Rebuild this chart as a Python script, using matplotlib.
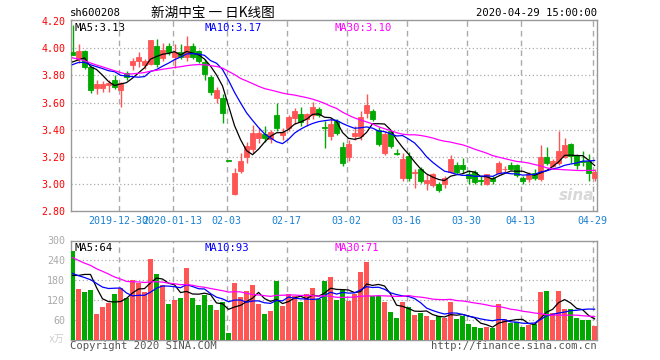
import matplotlib
matplotlib.use('Agg')
import matplotlib.pyplot as plt
import numpy as np
import pandas as pd

plt.rcParams['font.family'] = ['DejaVu Sans Mono', 'Noto Sans CJK SC']

# daily candles 2019-12-18 .. 2020-04-29
opens = [3.97, 3.92, 3.98, 3.86, 3.71, 3.71, 3.73, 3.765, 3.69, 3.815,
         3.875, 3.905, 3.88, 3.885, 4.015, 3.93, 4.015, 3.94, 3.975, 3.935,
         4.02, 3.98, 3.90, 3.79, 3.63, 3.635, 3.17, 2.925, 3.09, 3.195,
         3.255, 3.335, 3.365, 3.33, 3.505, 3.36, 3.41, 3.485, 3.515, 3.475,
         3.51, 3.55, 3.42, 3.35, 3.465, 3.27, 3.195, 3.35, 3.35, 3.525,
         3.54, 3.40, 3.23, 3.39, 3.23, 3.045, 3.205, 3.08, 3.105, 3.005,
         2.99, 3.00, 3.00, 3.085, 3.14, 3.14, 3.07, 3.085, 3.025, 3.00,
         3.04, 3.08, 3.105, 3.14, 3.135, 3.045, 3.035, 3.08, 3.035, 3.195,
         3.13, 3.155, 3.195, 3.295, 3.21, 3.17, 3.165, 3.045]
highs = [4.17, 4.03, 3.985, 3.87, 3.77, 3.76, 3.77, 3.80, 3.75, 3.835,
         3.93, 3.97, 3.92, 4.065, 4.07, 4.04, 4.04, 4.03, 4.03, 4.09,
         4.04, 3.99, 3.92, 3.80, 3.715, 3.66, 3.17, 3.115, 3.225, 3.31,
         3.43, 3.41, 3.425, 3.395, 3.60, 3.41, 3.51, 3.56, 3.565, 3.525,
         3.605, 3.565, 3.46, 3.485, 3.48, 3.31, 3.325, 3.425, 3.54, 3.665,
         3.555, 3.42, 3.39, 3.40, 3.255, 3.23, 3.235, 3.11, 3.125, 3.07,
         3.08, 3.01, 3.06, 3.215, 3.16, 3.19, 3.10, 3.10, 3.055, 3.075,
         3.06, 3.165, 3.13, 3.16, 3.145, 3.06, 3.085, 3.11, 3.285, 3.27,
         3.18, 3.39, 3.34, 3.30, 3.22, 3.24, 3.22, 3.105]
lows = [3.95, 3.89, 3.85, 3.67, 3.66, 3.68, 3.68, 3.70, 3.565, 3.77,
        3.84, 3.86, 3.85, 3.88, 3.86, 3.905, 3.95, 3.855, 3.92, 3.905,
        3.92, 3.89, 3.77, 3.655, 3.60, 3.45, 3.17, 2.915, 3.08, 3.15,
        3.225, 3.30, 3.31, 3.30, 3.39, 3.32, 3.39, 3.44, 3.425, 3.425,
        3.475, 3.49, 3.265, 3.32, 3.36, 3.13, 3.165, 3.325, 3.325, 3.485,
        3.46, 3.275, 3.21, 3.26, 3.21, 3.02, 3.02, 2.965, 3.005, 2.95,
        2.975, 2.94, 2.97, 3.08, 3.07, 3.08, 3.00, 2.995, 2.99, 2.99,
        2.995, 3.07, 3.085, 3.10, 3.05, 3.00, 3.01, 3.025, 3.02, 3.14,
        3.12, 3.14, 3.19, 3.155, 3.11, 3.13, 3.02, 3.02]
closes = [3.95, 3.98, 3.86, 3.69, 3.74, 3.74, 3.745, 3.715, 3.745, 3.79,
          3.905, 3.94, 3.905, 4.065, 3.885, 3.99, 3.97, 3.97, 3.94, 4.015,
          3.935, 3.905, 3.81, 3.68, 3.69, 3.525, 3.17, 3.08, 3.165, 3.28,
          3.375, 3.375, 3.34, 3.38, 3.41, 3.385, 3.49, 3.535, 3.455, 3.515,
          3.565, 3.51, 3.41, 3.44, 3.375, 3.155, 3.295, 3.375, 3.49, 3.58,
          3.475, 3.295, 3.365, 3.275, 3.22, 3.185, 3.04, 3.085, 3.02, 3.03,
          3.07, 2.95, 3.045, 3.18, 3.085, 3.105, 3.045, 3.015, 3.02, 3.07,
          3.02, 3.155, 3.11, 3.11, 3.065, 3.02, 3.07, 3.045, 3.195, 3.155,
          3.165, 3.245, 3.285, 3.205, 3.14, 3.16, 3.08, 3.085]
# volume, 万手
volumes = [268, 153, 144, 150, 78, 99, 111, 138, 156, 126,
           180, 171, 144, 243, 198, 165, 108, 120, 126, 216,
           126, 105, 135, 105, 90, 114, 21, 171, 129, 147,
           165, 108, 78, 87, 177, 102, 138, 132, 114, 138,
           156, 123, 177, 189, 120, 153, 117, 138, 204, 234,
           132, 132, 114, 84, 66, 114, 99, 75, 81, 72,
           60, 72, 66, 116, 63, 72, 48, 39, 36, 39,
           36, 108, 63, 51, 54, 39, 45, 48, 144, 147,
           81, 147, 93, 93, 66, 61, 60, 42]

# sessions before the window (estimated, only feed the moving averages)
prev_closes = [4.25, 4.22, 4.20, 4.18, 4.15, 4.17, 4.16, 4.14, 4.135,
               3.85, 3.80, 3.76, 3.74, 3.72, 3.75, 3.78, 3.76, 3.77, 3.79, 3.775,
               3.82, 3.85, 3.87, 3.88, 3.88,
               3.905, 3.785, 4.015, 3.845]
prev_volumes = [420, 390, 350, 380, 330, 360, 400, 340, 345,
                210, 185, 200, 190, 175, 205, 195, 180, 210, 200, 195,
                220, 200, 215, 190, 210,
                153, 129, 150, 275]

date_labels = ['2019-12-30', '2020-01-13', '02-03', '02-17', '03-02',
               '03-16', '03-30', '04-13', '04-29']
date_pos = [8, 17, 26, 36, 46, 56, 66, 75, 87]

RED = '#ff5555'
GREEN = '#00a800'
GRID = '#aaaaaa'
FRAME = '#999999'

n = len(closes)
x = np.arange(n)
o = np.array(opens)
c = np.array(closes)
up = c > o
cols = [RED if u else GREEN for u in up]


def ma(prev, vals, k):
    s = pd.Series(list(prev) + list(vals)).rolling(k, min_periods=1).mean()
    return s.values[len(prev):]


fig = plt.figure(figsize=(6.6, 3.6), dpi=100)
W, H = 660.0, 360.0
axl, axr = 70.7, 597.0
ax = fig.add_axes([axl / W, 1 - 210.7 / H, (axr - axl) / W, (210.7 - 20) / H])
axv = fig.add_axes([axl / W, 1 - 340.3 / H, (axr - axl) / W, (340.3 - 240.5) / H])

grid_x = [p - 0.33 for p in date_pos]

for a in (ax, axv):
    a.set_xlim(-0.3, 87.4)
    for s in a.spines.values():
        s.set_color(FRAME)
        s.set_linewidth(1.0)
    for gx in grid_x:
        a.axvline(gx, color=GRID, lw=1.0, ls=(0, (4, 3)), zorder=0)
    a.tick_params(length=0)

# price panel
ax.set_ylim(2.80, 4.21)
yt = [2.8, 3.0, 3.2, 3.4, 3.6, 3.8, 4.0, 4.2]
for yv in yt[1:-1]:
    ax.axhline(yv, color=GRID, lw=0.9, ls=(0, (1, 2)), zorder=0)
ax.set_yticks(yt)
ax.set_yticklabels(['%.2f' % v for v in yt], color='#ff0000', fontsize=7.2)
ax.set_xticks(grid_x)
ax.set_xticklabels(date_labels, color='#1a80d0', fontsize=7.2)
ax.tick_params(axis='y', pad=4)
ax.tick_params(axis='x', pad=4)

ax.vlines(x, lows, highs, colors=cols, lw=1.0, zorder=2)
body = np.maximum(np.abs(c - o), 0.003)
ax.bar(x, body, bottom=np.minimum(o, c), width=0.83, color=cols,
       edgecolor=cols, linewidth=0.6, zorder=3)

m5 = ma(prev_closes, closes, 5)
m10 = ma(prev_closes, closes, 10)
m30 = ma(prev_closes, closes, 30)
ax.plot(x, m5, color='black', lw=0.9, zorder=4)
ax.plot(x, m10, color='#0000ff', lw=0.9, zorder=4)
ax.plot(x, m30, color='#ff00ff', lw=0.9, zorder=4)

ax.text(0.008, 0.985, 'MA5:%.2f' % m5[-1], transform=ax.transAxes,
        fontsize=7.6, va='top', ha='left', color='black')
ax.text(0.255, 0.985, 'MA10:%.2f' % m10[-1], transform=ax.transAxes,
        fontsize=7.6, va='top', ha='left', color='#0000ff')
ax.text(0.501, 0.985, 'MA30:%.2f' % m30[-1], transform=ax.transAxes,
        fontsize=7.6, va='top', ha='left', color='#ff00ff')
ax.text(0.995, 0.04, 'sina', transform=ax.transAxes, fontsize=11,
        family='DejaVu Sans', style='italic', weight='bold', color='#d8d8d8',
        ha='right', va='bottom', zorder=1)

# volume panel
axv.set_ylim(0, 300)
for yv in [60, 120, 180, 240]:
    axv.axhline(yv, color=GRID, lw=0.9, ls=(0, (1, 2)), zorder=0)
axv.set_yticks([60, 120, 180, 240, 300])
axv.set_yticklabels(['60', '120', '180', '240', '300'], color='#aaaaaa', fontsize=7.2)
axv.tick_params(axis='y', pad=4)
axv.set_xticks([])
axv.bar(x, volumes, width=0.83, color=cols, zorder=3)
v5 = ma(prev_volumes, volumes, 5)
v10 = ma(prev_volumes, volumes, 10)
v30 = ma(prev_volumes, volumes, 30)
axv.plot(x, v5, color='black', lw=0.9, zorder=4)
axv.plot(x, v10, color='#0000ff', lw=0.9, zorder=4)
axv.plot(x, v30, color='#ff00ff', lw=0.9, zorder=4)
axv.text(0.008, 0.975, 'MA5:%d' % round(v5[-1]), transform=axv.transAxes,
         fontsize=7.6, va='top', ha='left', color='black')
axv.text(0.255, 0.975, 'MA10:%d' % round(v10[-1]), transform=axv.transAxes,
         fontsize=7.6, va='top', ha='left', color='#0000ff')
axv.text(0.501, 0.975, 'MA30:%d' % round(v30[-1]), transform=axv.transAxes,
         fontsize=7.6, va='top', ha='left', color='#ff00ff')

# header and footer
fig.text(70 / W, 1 - 13 / H, 'sh600208', fontsize=7.6, va='center', ha='left')
fig.text(213 / W, 1 - 13 / H, '新湖中宝 一 日K线图', fontsize=9.8,
         va='center', ha='center', family=['Noto Sans CJK SC', 'DejaVu Sans'])
fig.text(597 / W, 1 - 13 / H, '2020-04-29 15:00:00', fontsize=7.6,
         va='center', ha='right')
fig.text(64 / W, 1 - 339 / H, 'x万', fontsize=7, va='center', ha='right',
         color='#cccccc', family=['DejaVu Sans Mono', 'Noto Sans CJK SC'])
fig.text(70 / W, 1 - 346 / H, 'Copyright 2020 SINA.COM', fontsize=7.6,
         va='center', ha='left', color='#555555')
fig.text(597 / W, 1 - 346 / H, 'http://finance.sina.com.cn', fontsize=7.6,
         va='center', ha='right', color='#555555')

fig.savefig('out.png', dpi=100)
